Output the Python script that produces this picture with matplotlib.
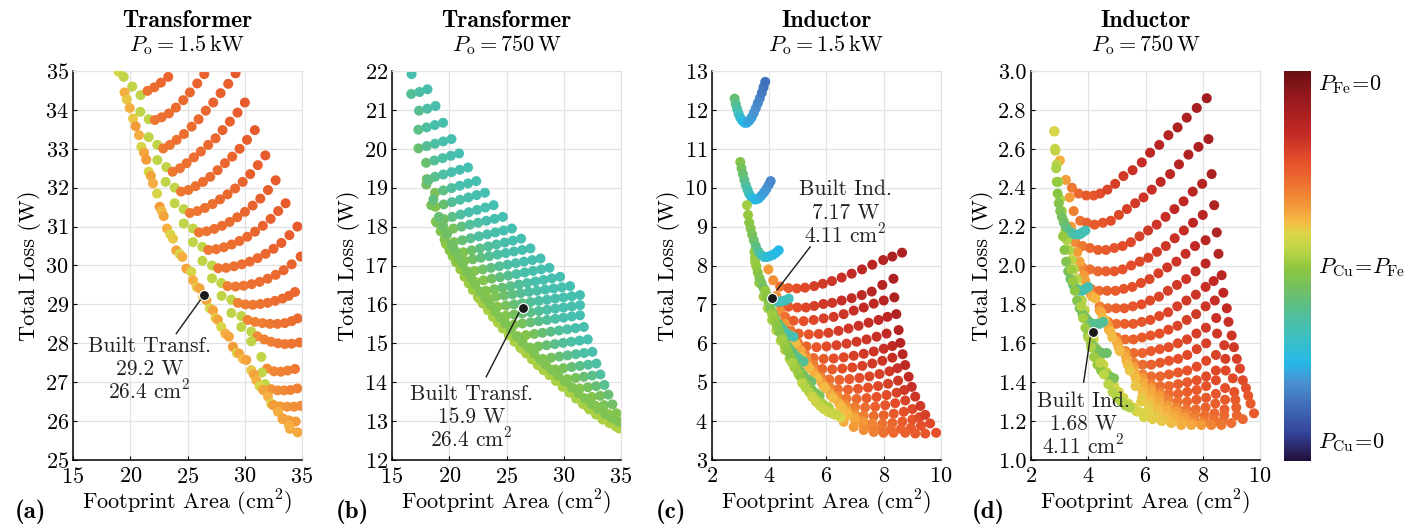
# loss vs footprint scatter for transformer and inductor designs
import numpy as np
import matplotlib as mpl
import matplotlib.pyplot as plt
from matplotlib.colors import LinearSegmentedColormap, Normalize
from matplotlib.ticker import FormatStrFormatter

plt.rcParams['font.family'] = 'cmr10'
plt.rcParams['mathtext.fontset'] = 'cm'
plt.rcParams['axes.formatter.use_mathtext'] = True
plt.rcParams['font.size'] = 15

# colour scale: -1 = P_Cu=0, 0 = P_Cu=P_Fe, +1 = P_Fe=0
CMAP_POS = [0.0, 0.07, 0.13, 0.2, 0.25, 0.31, 0.37, 0.43, 0.494, 0.532, 0.583, 0.617, 0.65, 0.70, 0.77, 0.84, 0.925, 1.0]
CMAP_HEX = ['#21103c', '#34439a', '#3e66b4', '#4a90d0', '#25b7e7', '#3bbfc6', '#4fbf9e', '#6cbf6b', '#8dc63f',
            '#b4d346', '#dcd548', '#f6b843', '#f39b39', '#ee7832', '#e5502a', '#c32a25', '#9a1a1e', '#6b0f14']

# ---------------- (a) transformer 1.5 kW ----------------
A_ROW_X = [
    [20.17, 20.9, 21.51, 22.1, 22.68, 23.32],
    [20.88, 21.61, 22.15, 22.74, 23.38, 23.99, 24.63, 25.21, 25.85, 26.46],
    [21.61, 22.36, 22.88, 23.46, 24.05, 24.69, 25.36, 25.97, 26.6, 27.25, 27.89, 28.56, 29.2],
    [22.37, 23.15, 23.7, 24.34, 24.92, 25.56, 26.17, 26.81, 27.45, 28.06, 28.7, 29.37, 30.01],
    [23.09, 23.88, 24.43, 25.07, 25.71, 26.35, 26.99, 27.63, 28.27, 28.91, 29.55, 30.2, 30.88],
    [23.88, 24.67, 25.2, 25.86, 26.52, 27.18, 27.84, 28.5, 29.16, 29.82, 30.48, 31.14, 31.8],
    [24.67, 25.48, 26.0, 26.67, 27.34, 28.01, 28.68, 29.35, 30.02, 30.69, 31.36, 32.03, 32.7],
    [25.48, 26.3, 26.82, 27.5, 28.18, 28.86, 29.54, 30.22, 30.9, 31.58, 32.26, 32.92, 33.57],
    [26.3, 27.14, 27.68, 28.37, 29.06, 29.75, 30.44, 31.13, 31.82, 32.51, 33.2, 33.9, 34.6],
    [27.14, 27.95, 28.5, 29.2, 29.9, 30.6, 31.3, 32.0, 32.7, 33.4, 34.1, 34.88],
    [27.98, 28.83, 29.4, 30.05, 30.7, 31.35, 32.0, 32.65, 33.3, 33.85, 34.39],
    [28.83, 29.7, 30.25, 30.9, 31.55, 32.2, 32.85, 33.5, 34.1, 34.63],
    [29.7, 30.57, 31.1, 31.7, 32.3, 32.9, 33.5, 34.1, 34.77],
    [30.57, 31.45, 31.95, 32.55, 33.15, 33.75, 34.39],
    [31.5, 31.77, 32.3, 32.87, 33.44, 34.0, 34.59],
    [32.5, 33.1, 33.7, 34.3, 34.88],
    [33.3, 33.85, 34.45],
    [33.95, 34.62],
]
A_ROW_Y = [
    [34.6, 34.38, 34.49, 34.58, 34.7, 34.85],
    [33.95, 33.76, 33.74, 33.81, 33.91, 34.06, 34.25, 34.45, 34.68, 34.92],
    [33.3, 33.1, 33.01, 33.1, 33.23, 33.38, 33.57, 33.76, 33.98, 34.19, 34.43, 34.67, 34.94],
    [32.71, 32.53, 32.41, 32.5, 32.63, 32.78, 32.93, 33.1, 33.27, 33.48, 33.7, 33.93, 34.19],
    [32.15, 32.0, 31.9, 31.94, 32.04, 32.15, 32.28, 32.45, 32.63, 32.8, 33.0, 33.23, 33.48],
    [31.6, 31.45, 31.35, 31.4, 31.48, 31.58, 31.7, 31.83, 31.98, 32.15, 32.35, 32.58, 32.83],
    [31.08, 30.95, 30.85, 30.88, 30.94, 31.02, 31.12, 31.24, 31.38, 31.54, 31.72, 31.94, 32.19],
    [30.6, 30.48, 30.4, 30.42, 30.47, 30.54, 30.63, 30.74, 30.87, 31.02, 31.2, 31.4, 31.6],
    [30.12, 30.0, 29.93, 29.94, 29.98, 30.03, 30.1, 30.19, 30.3, 30.43, 30.58, 30.78, 31.0],
    [29.67, 29.55, 29.47, 29.46, 29.48, 29.52, 29.58, 29.66, 29.76, 29.88, 30.03, 30.23],
    [29.22, 29.12, 29.04, 29.0, 28.99, 29.01, 29.04, 29.09, 29.15, 29.22, 29.32],
    [28.78, 28.7, 28.6, 28.55, 28.52, 28.5, 28.5, 28.52, 28.57, 28.64],
    [28.42, 28.3, 28.18, 28.1, 28.04, 28.0, 27.98, 27.99, 28.02],
    [28.05, 27.65, 27.35, 27.28, 27.27, 27.3, 27.34],
    [27.25, 26.95, 26.82, 26.79, 26.79, 26.8, 26.84],
    [26.42, 26.38, 26.37, 26.37, 26.39],
    [26.05, 26.02, 25.99],
    [25.8, 25.71],
]
A_ROW_C = [
    [.1, .1, .42, .44, .46, .47],
    [.1, .1, .4, .42, .43, .44, .45, .46, .47, .48],
    [.1, .1, .4, .41, .42, .43, .44, .45, .46, .47, .48, .49, .5],
    [.1, .1, .4, .41, .42, .43, .44, .45, .46, .47, .48, .49, .5],
    [.1, .1, .4, .41, .42, .43, .44, .45, .46, .47, .48, .49, .5],
    [.1, .1, .4, .41, .42, .43, .44, .45, .46, .47, .48, .49, .5],
    [.1, .1, .4, .41, .42, .43, .44, .45, .46, .47, .48, .49, .5],
    [.1, .1, .4, .41, .42, .43, .44, .45, .46, .47, .48, .49, .5],
    [.1, .1, .4, .41, .42, .43, .44, .45, .46, .47, .48, .49, .5],
    [.1, .1, .38, .4, .41, .42, .43, .44, .45, .46, .47, .48],
    [.1, .1, .37, .39, .4, .41, .42, .43, .44, .45, .46],
    [.1, .1, .36, .38, .39, .4, .41, .42, .43, .44],
    [.1, .1, .35, .37, .38, .39, .4, .41, .42],
    [.1, .1, .34, .36, .37, .38, .4],
    [.1, .1, .32, .34, .35, .36, .37],
    [.12, .3, .32, .33, .34],
    [.27, .29, .3],
    [.26, .27],
]
A_EDGE_X = [19.0, 19.43, 19.5, 19.7, 19.95, 20.24, 20.47, 20.76, 20.97, 21.2, 21.4, 21.61, 21.8, 21.99, 22.34,
            22.57, 22.75, 22.92, 23.21, 23.5, 23.73, 24.02, 24.3, 24.55, 24.9, 25.33, 25.48, 25.8, 26.06, 26.35,
            26.65, 26.95, 27.23, 27.45, 27.66, 27.95, 28.3, 28.62, 28.97, 29.3, 29.5, 29.85, 30.14, 30.57, 30.8,
            31.01, 31.3, 31.6, 32.03, 32.3, 32.47, 32.9, 33.34, 33.86]
A_EDGE_Y = [34.98, 34.85, 34.45, 34.27, 34.05, 33.78, 33.58, 33.35, 33.05, 32.9, 32.72, 32.41, 32.3, 32.11, 31.85,
            31.51, 31.4, 31.27, 30.95, 30.8, 30.69, 30.39, 30.3, 30.22, 29.92, 29.84, 29.62, 29.45, 29.41, 29.2,
            29.11, 28.9, 28.85, 28.65, 28.6, 28.42, 28.25, 28.17, 27.91, 27.75, 27.74, 27.6, 27.57, 27.31, 27.2,
            27.05, 26.9, 26.8, 26.63, 26.45, 26.41, 26.24, 26.07, 25.9]
A_EDGE_C = [.15, .1, .25, .2, .25, .2, .3, .25, .15, .28, .3, .15, .28, .25, .15, .3, .22, .28, .25, .15, .2, .28,
            .15, .25, .28, .15, .25, .2, .28, .2, .28, .15, .28, .2, .28, .15, .25, .28, .3, .15, .28, .22, .28, .2,
            .28, .25, .15, .28, .25, .15, .3, .25, .28, .25]

# ---------------- (b) transformer 750 W ----------------
B_ROW_X = [
    [16.71],
    [16.68, 17.4, 18.1],
    [17.36, 18.08, 18.8],
    [17.3, 18.02, 18.74, 19.46],
    [17.31, 18.03, 18.75, 19.47, 20.19],
    [17.98, 18.7, 19.42, 20.14, 20.86],
    [18.04, 18.76, 19.48, 20.2, 20.92, 21.64],
    [18.76, 19.48, 20.2, 20.92, 21.64, 22.36],
    [18.79, 19.51, 20.23, 20.95, 21.67, 22.39, 23.11],
    [18.83, 19.55, 20.27, 20.99, 21.71, 22.43, 23.15, 23.87],
    [19.64, 20.36, 21.08, 21.8, 22.52, 23.24, 23.96, 24.68],
    [19.71, 20.43, 21.15, 21.87, 22.59, 23.31, 24.03, 24.75, 25.47],
    [20.52, 21.24, 21.96, 22.68, 23.4, 24.12, 24.84, 25.56, 26.28],
    [20.61, 21.33, 22.05, 22.77, 23.49, 24.21, 24.93, 25.65, 26.37, 27.09],
    [21.49, 22.21, 22.93, 23.65, 24.37, 25.09, 25.81, 26.53, 27.25, 27.97],
    [22.27, 22.99, 23.71, 24.43, 25.15, 25.87, 26.59, 27.31, 28.03, 28.75],
    [22.48, 23.2, 23.92, 24.64, 25.36, 26.08, 26.8, 27.52, 28.24, 28.96, 29.68],
    [22.63, 23.35, 24.07, 24.79, 25.51, 26.23, 26.95, 27.67, 28.39, 29.11, 29.83, 30.55],
    [23.5, 24.22, 24.94, 25.66, 26.38, 27.1, 27.82, 28.54, 29.26, 29.98, 30.7, 31.42],
    [24.22, 24.94, 25.66, 26.38, 27.1, 27.82, 28.54, 29.26, 29.98, 30.7, 31.42],
    [24.94, 25.66, 26.38, 27.1, 27.82, 28.54, 29.26, 29.98, 30.7, 31.42],
    [25.99, 26.71, 27.43, 28.15, 28.87, 29.59, 30.31, 31.03, 31.75],
    [26.34, 27.06, 27.78, 28.5, 29.22, 29.94, 30.66, 31.38, 32.1],
    [27.46, 28.18, 28.9, 29.62, 30.34, 31.06, 31.78, 32.5],
    [28.53, 29.25, 29.97, 30.69, 31.41, 32.13, 32.85],
    [29.6, 30.32, 31.04, 31.76, 32.48, 33.2],
    [30.67, 31.39, 32.11, 32.83, 33.55],
    [31.74, 32.46, 33.18, 33.9],
    [32.09, 32.81, 33.53, 34.25],
    [33.16, 33.88, 34.6],
    [34.18, 34.9],
]
B_ROW_Y = [
    [21.92],
    [21.41, 21.46, 21.53],
    [20.98, 21.03, 21.1],
    [20.49, 20.55, 20.61, 20.67],
    [20.01, 20.07, 20.13, 20.19, 20.25],
    [19.64, 19.7, 19.76, 19.82, 19.88],
    [19.22, 19.28, 19.34, 19.4, 19.46, 19.52],
    [18.87, 18.93, 18.99, 19.05, 19.11, 19.17],
    [18.51, 18.57, 18.63, 18.69, 18.75, 18.81, 18.87],
    [18.13, 18.19, 18.25, 18.31, 18.37, 18.43, 18.49, 18.55],
    [17.9, 17.95, 18.0, 18.05, 18.1, 18.15, 18.2, 18.25],
    [17.55, 17.6, 17.65, 17.7, 17.75, 17.8, 17.85, 17.9, 17.95],
    [17.29, 17.34, 17.39, 17.44, 17.49, 17.54, 17.59, 17.64, 17.69],
    [17.08, 17.12, 17.16, 17.2, 17.24, 17.28, 17.32, 17.36, 17.4, 17.44],
    [16.82, 16.86, 16.9, 16.94, 16.98, 17.02, 17.06, 17.1, 17.14, 17.18],
    [16.58, 16.62, 16.66, 16.7, 16.74, 16.78, 16.82, 16.86, 16.9, 16.94],
    [16.31, 16.35, 16.39, 16.43, 16.47, 16.51, 16.55, 16.59, 16.63, 16.67, 16.71],
    [16.14, 16.17, 16.2, 16.23, 16.26, 16.29, 16.32, 16.35, 16.38, 16.41, 16.44, 16.47],
    [15.91, 15.94, 15.97, 16.0, 16.03, 16.06, 16.09, 16.12, 16.15, 16.18, 16.21, 16.24],
    [15.68, 15.71, 15.74, 15.77, 15.8, 15.83, 15.86, 15.89, 15.92, 15.95, 15.98],
    [15.45, 15.48, 15.51, 15.54, 15.57, 15.6, 15.63, 15.66, 15.69, 15.72],
    [15.18, 15.21, 15.24, 15.27, 15.3, 15.33, 15.36, 15.39, 15.42],
    [14.86, 14.89, 14.92, 14.95, 14.98, 15.01, 15.04, 15.07, 15.1],
    [14.57, 14.6, 14.63, 14.66, 14.69, 14.72, 14.75, 14.78],
    [14.3, 14.33, 14.36, 14.39, 14.42, 14.45, 14.48],
    [14.05, 14.08, 14.11, 14.14, 14.17, 14.2],
    [13.81, 13.84, 13.87, 13.9, 13.93],
    [13.59, 13.62, 13.65, 13.68],
    [13.37, 13.39, 13.41, 13.43],
    [13.16, 13.18, 13.2],
    [12.94, 12.95],
]
B_ROW_C = [
    [-.3],
    [-.24, -.28, -.3],
    [-.22, -.28, -.3],
    [-.2, -.26, -.3, -.31],
    [-.15, -.24, -.28, -.3, -.31],
    [-.15, -.24, -.28, -.3, -.32],
    [-.12, -.22, -.27, -.3, -.31, -.32],
    [-.08, -.2, -.26, -.3, -.31, -.32],
    [-.05, -.15, -.24, -.28, -.3, -.31, -.32],
    [-.02, -.12, -.2, -.26, -.29, -.3, -.31, -.32],
    [0, -.1, -.18, -.25, -.28, -.3, -.31, -.32],
    [0, -.08, -.16, -.22, -.27, -.29, -.3, -.31, -.32],
    [.02, -.06, -.14, -.2, -.25, -.28, -.3, -.31, -.32],
    [.02, -.05, -.12, -.18, -.23, -.27, -.29, -.3, -.31, -.32],
    [.02, -.05, -.12, -.18, -.23, -.27, -.29, -.3, -.31, -.32],
    [.02, -.05, -.12, -.18, -.23, -.27, -.29, -.3, -.31, -.32],
    [.03, -.04, -.1, -.16, -.21, -.25, -.28, -.3, -.31, -.31, -.32],
    [.04, -.02, -.08, -.14, -.19, -.23, -.26, -.28, -.3, -.31, -.31, -.32],
    [.03, -.04, -.1, -.16, -.2, -.24, -.27, -.29, -.3, -.31, -.31, -.32],
    [.03, -.04, -.1, -.16, -.21, -.25, -.28, -.3, -.31, -.31, -.32],
    [.03, -.04, -.1, -.16, -.21, -.25, -.28, -.3, -.31, -.32],
    [.03, -.04, -.1, -.16, -.21, -.25, -.28, -.3, -.31],
    [.03, -.04, -.1, -.16, -.21, -.25, -.28, -.3, -.31],
    [.03, -.04, -.1, -.16, -.21, -.25, -.28, -.3],
    [.03, -.04, -.1, -.16, -.21, -.25, -.28],
    [.03, -.04, -.1, -.16, -.21, -.26],
    [.03, -.04, -.1, -.16, -.22],
    [.03, -.04, -.1, -.16],
    [.03, -.03, -.08, -.12],
    [.04, -.02, -.06],
    [.04, -.02],
]
B_EDGE_X = [
    [18.0, 18.43, 18.92, 19.25, 19.59, 20.03, 20.3, 20.6, 20.97, 21.34, 21.7, 22.06, 22.5, 22.94, 23.38, 23.81,
     24.25, 24.68, 25.2, 25.7, 26.2, 26.72, 27.22, 27.73, 28.24, 28.75, 29.33, 29.91, 30.5, 31.08, 31.66, 32.24,
     32.82, 33.4, 33.98, 34.56, 34.85],
    [18.2, 18.62, 19.1, 19.45, 19.8, 20.22, 20.5, 20.8, 21.17, 21.54, 21.9, 22.26, 22.7, 23.14, 23.58, 24.01,
     24.45, 24.88, 25.4, 25.9, 26.4, 26.92, 27.42, 27.93, 28.44, 28.95, 29.53, 30.11, 30.7, 31.28, 31.86, 32.44,
     33.02, 33.6, 34.18, 34.76],
]
B_EDGE_Y = [
    [19.08, 18.55, 18.1, 17.88, 17.67, 17.39, 17.24, 17.09, 16.9, 16.71, 16.54, 16.37, 16.19, 16.02, 15.85, 15.68,
     15.53, 15.38, 15.21, 15.04, 14.89, 14.74, 14.59, 14.44, 14.31, 14.18, 14.03, 13.88, 13.73, 13.58, 13.44, 13.3,
     13.17, 13.04, 12.95, 12.86, 12.81],
    [19.2, 18.7, 18.25, 18.02, 17.8, 17.53, 17.38, 17.23, 17.04, 16.85, 16.68, 16.51, 16.33, 16.16, 15.99, 15.82,
     15.67, 15.52, 15.35, 15.18, 15.03, 14.88, 14.73, 14.58, 14.45, 14.32, 14.17, 14.02, 13.87, 13.72, 13.58, 13.44,
     13.31, 13.18, 13.08, 12.99],
]
B_EDGE_C = [
    [-.12, -.1, -.08, -.06, -.05, -.04, -.02, -.02, 0, 0, .02, .02, .03, .03, .04, .04, .04, .04, .04, .04, .04,
     .04, .04, .04, .04, .04, .04, .04, .04, .04, .04, .04, .04, .05, .05, .05, .05],
    [-.2, -.18, -.16, -.14, -.13, -.12, -.11, -.1, -.09, -.08, -.07, -.07, -.07, -.07, -.07, -.07, -.07, -.07,
     -.07, -.07, -.07, -.07, -.07, -.07, -.07, -.07, -.07, -.07, -.07, -.07, -.07, -.07, -.07, -.07, -.07, -.07],
]

# ---------------- (c) inductor 1.5 kW ----------------
C_ROW_X = [
    [3.97, 4.14, 4.38, 4.67, 4.96, 5.25, 5.57, 5.87, 6.19, 6.53, 6.88, 7.24, 7.6, 7.98, 8.3, 8.64],
    [4.25, 4.38, 4.67, 4.98, 5.28, 5.57, 5.89, 6.2, 6.53, 6.88, 7.23, 7.58, 7.95, 8.34],
    [4.39, 4.56, 4.85, 5.2, 5.55, 5.9, 6.25, 6.6, 6.95, 7.3, 7.65, 8.0, 8.37],
    [4.55, 4.75, 5.03, 5.38, 5.73, 6.07, 6.42, 6.77, 7.12, 7.47, 7.82, 8.13, 8.44],
    [4.78, 5.0, 5.3, 5.65, 6.0, 6.35, 6.7, 7.05, 7.4, 7.75, 8.1, 8.52],
    [4.8, 5.0, 5.25, 5.55, 5.9, 6.25, 6.6, 6.95, 7.3, 7.65, 8.0, 8.3, 8.58],
    [4.92, 5.1, 5.3, 5.55, 5.85, 6.2, 6.55, 6.9, 7.25, 7.6, 7.95, 8.3, 8.66],
    [5.12, 5.32, 5.55, 5.8, 6.1, 6.45, 6.8, 7.15, 7.5, 7.85, 8.2, 8.48, 8.75],
    [5.4, 5.6, 5.83, 6.1, 6.4, 6.75, 7.1, 7.45, 7.8, 8.15, 8.5, 8.87],
    [5.68, 5.88, 6.12, 6.4, 6.7, 7.05, 7.4, 7.75, 8.1, 8.45, 8.72, 8.98],
    [5.95, 6.15, 6.4, 6.68, 7.0, 7.35, 7.7, 8.05, 8.4, 8.75, 9.1],
    [6.22, 6.45, 6.7, 6.98, 7.3, 7.65, 8.0, 8.35, 8.7, 9.0, 9.28],
    [6.5, 6.72, 6.98, 7.28, 7.6, 7.95, 8.3, 8.65, 9.0, 9.25, 9.45],
    [6.55, 6.75, 7.0, 7.28, 7.58, 7.9, 8.25, 8.6, 8.95, 9.3, 9.62],
    [6.07, 6.31, 6.6, 6.95, 7.3, 7.65, 7.99, 8.34, 8.75, 9.1, 9.45, 9.83],
]
C_ROW_Y = [
    [7.9, 7.62, 7.46, 7.42, 7.41, 7.43, 7.47, 7.53, 7.6, 7.69, 7.79, 7.9, 8.02, 8.14, 8.23, 8.33],
    [7.22, 7.01, 6.94, 6.92, 6.92, 6.96, 7.01, 7.04, 7.1, 7.16, 7.24, 7.33, 7.5, 7.66],
    [6.82, 6.68, 6.58, 6.57, 6.6, 6.64, 6.68, 6.75, 6.84, 6.92, 7.02, 7.1, 7.18],
    [6.5, 6.33, 6.25, 6.23, 6.24, 6.27, 6.32, 6.38, 6.45, 6.53, 6.6, 6.68, 6.75],
    [6.2, 6.02, 5.92, 5.9, 5.92, 5.95, 5.99, 6.04, 6.1, 6.17, 6.25, 6.34],
    [6.1, 5.9, 5.72, 5.62, 5.6, 5.61, 5.64, 5.68, 5.73, 5.79, 5.86, 5.93, 6.01],
    [6.0, 5.82, 5.62, 5.45, 5.34, 5.33, 5.35, 5.38, 5.42, 5.48, 5.55, 5.63, 5.72],
    [5.65, 5.45, 5.28, 5.14, 5.07, 5.06, 5.08, 5.11, 5.15, 5.21, 5.28, 5.36, 5.44],
    [5.36, 5.17, 5.0, 4.88, 4.82, 4.81, 4.83, 4.86, 4.9, 4.96, 5.04, 5.14],
    [5.1, 4.92, 4.76, 4.64, 4.58, 4.57, 4.59, 4.62, 4.67, 4.73, 4.8, 4.88],
    [4.85, 4.67, 4.52, 4.41, 4.36, 4.35, 4.37, 4.41, 4.46, 4.53, 4.63],
    [4.6, 4.44, 4.3, 4.19, 4.14, 4.13, 4.15, 4.19, 4.24, 4.31, 4.39],
    [4.37, 4.22, 4.09, 3.99, 3.94, 3.93, 3.95, 3.99, 4.04, 4.1, 4.16],
    [4.3, 4.16, 4.03, 3.92, 3.84, 3.8, 3.79, 3.8, 3.83, 3.88, 3.94],
    [4.35, 4.16, 3.98, 3.85, 3.77, 3.72, 3.7, 3.7, 3.7, 3.68, 3.68, 3.7],
]
C_ROW_C = [
    [.3, .33, .42, .5, .54, .57, .6, .62, .64, .66, .68, .7, .72, .74, .76, .78],
    [.32, .42, .5, .54, .57, .6, .62, .64, .66, .68, .7, .72, .74, .77],
    [.33, .42, .5, .54, .57, .6, .62, .64, .66, .68, .7, .72, .76],
    [.3, .4, .48, .53, .56, .59, .61, .63, .65, .67, .69, .71, .75],
    [.3, .4, .47, .52, .55, .58, .6, .62, .64, .66, .69, .74],
    [.25, .3, .38, .45, .5, .54, .57, .6, .62, .64, .66, .69, .73],
    [.22, .27, .32, .38, .45, .5, .54, .57, .6, .62, .64, .67, .72],
    [.22, .26, .31, .37, .43, .48, .52, .55, .58, .6, .62, .65, .7],
    [.22, .26, .3, .36, .42, .47, .51, .54, .57, .6, .63, .68],
    [.22, .26, .3, .35, .4, .45, .5, .53, .56, .59, .62, .66],
    [.22, .26, .3, .34, .39, .44, .48, .52, .55, .58, .64],
    [.22, .25, .29, .33, .38, .43, .47, .51, .54, .57, .62],
    [.22, .25, .28, .32, .37, .42, .46, .5, .53, .56, .6],
    [.22, .24, .27, .31, .36, .4, .44, .48, .51, .54, .57],
    [.2, .23, .26, .3, .34, .38, .42, .45, .48, .5, .52, .54],
]
C_HOOK_X = [
    [2.79, 2.83, 2.88, 2.93, 2.99, 3.06, 3.14, 3.22, 3.3, 3.38, 3.46, 3.53, 3.6, 3.67, 3.74, 3.8, 3.86],
    [2.99, 3.03, 3.08, 3.13, 3.18, 3.24, 3.3, 3.38, 3.46, 3.55, 3.64, 3.73, 3.82, 3.9, 3.98, 4.05],
    [3.22, 3.26, 3.3, 3.35, 3.4, 3.46, 3.53, 3.62, 3.72, 3.82, 3.92, 4.02, 4.12, 4.22, 4.33],
    [3.55, 3.6, 3.66, 3.73, 3.8, 3.88, 3.97, 4.07, 4.18, 4.3, 4.42, 4.55, 4.68],
    [3.86, 3.92, 3.98, 4.05, 4.12, 4.2, 4.3, 4.4, 4.5, 4.6, 4.72, 4.85],
    [4.1, 4.18, 4.26, 4.35, 4.45, 4.55, 4.66, 4.78, 4.9, 5.03, 5.2],
    [4.45, 4.54, 4.64, 4.74, 4.85, 4.97, 5.09, 5.21, 5.34, 5.47],
    [4.8, 4.9, 5.01, 5.12, 5.24, 5.36, 5.49, 5.62, 5.76],
    [5.15, 5.27, 5.39, 5.52, 5.65, 5.79, 5.93, 6.07],
    [5.5, 5.63, 5.76, 5.9, 6.05, 6.2, 6.36],
]
C_HOOK_Y = [
    [12.29, 12.15, 12.02, 11.9, 11.8, 11.72, 11.67, 11.67, 11.72, 11.8, 11.92, 12.04, 12.17, 12.3, 12.44, 12.58, 12.72],
    [10.66, 10.5, 10.35, 10.2, 10.07, 9.95, 9.84, 9.75, 9.7, 9.7, 9.73, 9.8, 9.88, 9.97, 10.07, 10.17],
    [9.55, 9.3, 9.1, 8.95, 8.8, 8.65, 8.5, 8.36, 8.27, 8.22, 8.22, 8.24, 8.27, 8.32, 8.39],
    [7.97, 7.82, 7.68, 7.55, 7.42, 7.3, 7.2, 7.12, 7.08, 7.07, 7.08, 7.1, 7.15],
    [7.35, 7.2, 7.05, 6.9, 6.77, 6.64, 6.52, 6.42, 6.33, 6.26, 6.2, 6.17],
    [6.75, 6.6, 6.45, 6.3, 6.16, 6.03, 5.91, 5.8, 5.7, 5.61, 5.53],
    [6.1, 5.95, 5.8, 5.66, 5.52, 5.39, 5.27, 5.16, 5.07, 5.01],
    [5.5, 5.37, 5.24, 5.12, 5.0, 4.9, 4.8, 4.72, 4.65],
    [4.98, 4.86, 4.75, 4.64, 4.54, 4.46, 4.4, 4.35],
    [4.62, 4.5, 4.4, 4.31, 4.24, 4.19, 4.16],
]
C_HOOK_C = [
    [-.16, -.22, -.28, -.34, -.4, -.45, -.5, -.52, -.54, -.56, -.58, -.6, -.62, -.64, -.66, -.68, -.7],
    [-.05, -.1, -.15, -.2, -.25, -.3, -.35, -.42, -.48, -.5, -.52, -.54, -.56, -.58, -.6, -.62],
    [.03, .0, -.02, -.04, -.08, -.13, -.18, -.25, -.32, -.38, -.42, -.45, -.47, -.48, -.5],
    [.0, -.02, -.05, -.08, -.12, -.16, -.2, -.25, -.3, -.33, -.35, -.35, -.35],
    [.0, -.02, -.04, -.07, -.1, -.13, -.17, -.21, -.25, -.28, -.3, -.32],
    [.02, .0, -.02, -.04, -.07, -.1, -.13, -.16, -.19, -.22, -.24],
    [.03, .01, -.01, -.03, -.05, -.08, -.1, -.12, -.14, -.15],
    [.05, .03, .01, -.01, -.03, -.05, -.06, -.07, -.08],
    [.08, .07, .06, .05, .04, .04, .04, .04],
    [.12, .12, .12, .12, .12, .12, .12],
]
C_EDGE_X = [3.48, 3.5, 3.51, 3.65, 3.8, 3.95, 4.1, 4.25, 4.4, 4.55, 4.71, 4.88, 5.05, 5.23, 5.42, 5.62, 5.83, 6.05,
            6.27, 6.5]
C_EDGE_Y = [8.35, 8.2, 8.08, 7.55, 7.2, 6.9, 6.6, 6.33, 6.07, 5.83, 5.6, 5.38, 5.17, 4.98, 4.8, 4.63, 4.47, 4.33,
            4.2, 4.09]
C_EDGE_C = [.0, .0, .0, .02, .03, .04, .05, .06, .07, .08, .09, .1, .1, .11, .12, .12, .13, .14, .15, .16]

# ---------------- (d) inductor 750 W ----------------
D_ROW_X = [
    [3.01, 3.22, 3.43, 3.66, 3.93, 4.19, 4.42, 4.67, 4.94, 5.23, 5.55, 5.87, 6.16, 6.48, 6.8, 7.12, 7.44, 7.79, 8.14],
    [3.35, 3.49, 3.72, 3.95, 4.22, 4.51, 4.79, 5.07, 5.35, 5.64, 5.93, 6.22, 6.53, 6.86, 7.17, 7.5, 7.85, 8.2],
    [3.4, 3.55, 3.8, 4.06, 4.34, 4.62, 4.91, 5.2, 5.49, 5.79, 6.09, 6.39, 6.7, 7.01, 7.33, 7.65, 7.98, 8.31],
    [3.62, 3.8, 4.06, 4.34, 4.62, 4.91, 5.2, 5.5, 5.8, 6.1, 6.4, 6.71, 7.02, 7.34, 7.66, 8.0, 8.4],
    [3.7, 3.85, 4.1, 4.38, 4.66, 4.95, 5.24, 5.54, 5.84, 6.14, 6.45, 6.76, 7.08, 7.4, 7.73, 8.1, 8.49],
    [3.9, 4.1, 4.4, 4.68, 4.97, 5.26, 5.56, 5.86, 6.16, 6.47, 6.78, 7.1, 7.42, 7.75, 8.1, 8.55],
    [4.15, 4.4, 4.7, 4.98, 5.27, 5.57, 5.87, 6.17, 6.48, 6.79, 7.11, 7.43, 7.76, 8.1, 8.38, 8.66],
    [4.25, 4.45, 4.7, 5.0, 5.29, 5.58, 5.88, 6.18, 6.49, 6.8, 7.12, 7.44, 7.77, 8.1, 8.42, 8.72],
    [4.5, 4.72, 5.0, 5.3, 5.59, 5.89, 6.19, 6.5, 6.81, 7.13, 7.45, 7.78, 8.11, 8.47, 8.84],
    [4.58, 4.78, 5.02, 5.3, 5.6, 5.9, 6.2, 6.51, 6.82, 7.14, 7.46, 7.79, 8.12, 8.5, 8.9],
    [4.84, 5.06, 5.32, 5.6, 5.9, 6.2, 6.51, 6.82, 7.14, 7.46, 7.79, 8.12, 8.46, 8.75, 9.01],
    [5.1, 5.34, 5.6, 5.9, 6.2, 6.51, 6.82, 7.14, 7.46, 7.79, 8.12, 8.46, 8.79, 9.09],
    [5.38, 5.62, 5.9, 6.2, 6.5, 6.82, 7.14, 7.46, 7.79, 8.12, 8.46, 8.8, 9.19],
    [5.45, 5.66, 5.92, 6.2, 6.5, 6.8, 7.12, 7.45, 7.78, 8.12, 8.46, 8.78, 9.05, 9.3],
    [5.65, 5.9, 6.17, 6.47, 6.78, 7.1, 7.43, 7.76, 8.1, 8.44, 8.78, 9.1, 9.4],
    [5.88, 6.15, 6.45, 6.76, 7.08, 7.4, 7.73, 8.07, 8.41, 8.76, 9.14, 9.51],
    [5.85, 6.12, 6.42, 6.73, 7.05, 7.37, 7.7, 8.04, 8.39, 8.75, 9.17, 9.59],
    [6.08, 6.38, 6.68, 7.0, 7.32, 7.65, 8.0, 8.35, 8.71, 9.19, 9.67],
    [5.68, 5.95, 6.25, 6.57, 6.9, 7.25, 7.6, 7.95, 8.3, 8.65, 9.0, 9.4, 9.79],
]
D_ROW_Y = [
    [2.54, 2.44, 2.4, 2.37, 2.36, 2.36, 2.37, 2.39, 2.42, 2.46, 2.49, 2.53, 2.58, 2.62, 2.67, 2.71, 2.76, 2.81, 2.86],
    [2.35, 2.28, 2.23, 2.22, 2.21, 2.22, 2.23, 2.26, 2.29, 2.32, 2.35, 2.39, 2.43, 2.47, 2.52, 2.57, 2.61, 2.65],
    [2.2, 2.12, 2.1, 2.09, 2.08, 2.08, 2.09, 2.1, 2.12, 2.15, 2.18, 2.21, 2.25, 2.29, 2.33, 2.38, 2.42, 2.47],
    [2.07, 1.99, 1.98, 1.97, 1.97, 1.97, 1.98, 2.0, 2.02, 2.04, 2.07, 2.1, 2.14, 2.18, 2.22, 2.26, 2.31],
    [2.02, 1.95, 1.88, 1.87, 1.87, 1.87, 1.88, 1.89, 1.91, 1.93, 1.96, 1.99, 2.02, 2.06, 2.1, 2.13, 2.17],
    [1.92, 1.85, 1.79, 1.78, 1.78, 1.78, 1.79, 1.8, 1.82, 1.84, 1.87, 1.9, 1.93, 1.97, 2.01, 2.06],
    [1.84, 1.77, 1.71, 1.7, 1.7, 1.7, 1.71, 1.72, 1.74, 1.76, 1.79, 1.82, 1.85, 1.89, 1.92, 1.95],
    [1.83, 1.76, 1.69, 1.63, 1.62, 1.62, 1.63, 1.64, 1.65, 1.67, 1.69, 1.72, 1.75, 1.79, 1.82, 1.86],
    [1.73, 1.67, 1.61, 1.56, 1.55, 1.55, 1.56, 1.57, 1.58, 1.6, 1.62, 1.65, 1.68, 1.73, 1.78],
    [1.72, 1.66, 1.6, 1.55, 1.5, 1.49, 1.49, 1.5, 1.51, 1.52, 1.54, 1.57, 1.6, 1.65, 1.71],
    [1.63, 1.58, 1.53, 1.48, 1.44, 1.43, 1.43, 1.44, 1.45, 1.46, 1.48, 1.51, 1.54, 1.59, 1.64],
    [1.56, 1.51, 1.46, 1.42, 1.39, 1.38, 1.38, 1.39, 1.4, 1.41, 1.43, 1.46, 1.52, 1.58],
    [1.49, 1.44, 1.4, 1.37, 1.35, 1.34, 1.34, 1.35, 1.36, 1.38, 1.41, 1.46, 1.52],
    [1.46, 1.42, 1.38, 1.35, 1.33, 1.31, 1.3, 1.3, 1.31, 1.32, 1.34, 1.37, 1.42, 1.47],
    [1.38, 1.35, 1.32, 1.3, 1.28, 1.27, 1.26, 1.26, 1.27, 1.29, 1.31, 1.35, 1.41],
    [1.32, 1.3, 1.28, 1.26, 1.25, 1.24, 1.23, 1.23, 1.24, 1.26, 1.31, 1.37],
    [1.3, 1.28, 1.26, 1.24, 1.23, 1.22, 1.21, 1.2, 1.21, 1.23, 1.27, 1.33],
    [1.25, 1.23, 1.22, 1.21, 1.2, 1.19, 1.19, 1.19, 1.2, 1.23, 1.29],
    [1.25, 1.22, 1.21, 1.2, 1.19, 1.18, 1.18, 1.18, 1.18, 1.18, 1.19, 1.21, 1.24],
]
D_ROW_C = [
    [.25, .3, .4, .45, .5, .52, .55, .58, .6, .62, .65, .67, .7, .72, .74, .76, .78, .8, .82],
    [.3, .38, .42, .47, .5, .52, .55, .57, .6, .62, .64, .66, .68, .7, .72, .75, .77, .8],
    [.3, .35, .4, .45, .48, .5, .52, .55, .57, .6, .62, .64, .66, .68, .7, .72, .74, .78],
    [.3, .35, .42, .46, .49, .51, .53, .55, .57, .59, .61, .63, .65, .67, .7, .72, .76],
    [.28, .3, .38, .44, .48, .5, .52, .54, .56, .58, .6, .62, .64, .66, .69, .72, .75],
    [.28, .3, .38, .44, .48, .5, .52, .54, .56, .58, .6, .62, .64, .67, .7, .74],
    [.26, .3, .38, .44, .48, .5, .52, .54, .56, .58, .6, .62, .64, .66, .69, .72],
    [.24, .26, .3, .38, .44, .48, .5, .52, .54, .56, .58, .6, .62, .64, .67, .7],
    [.24, .26, .3, .38, .44, .47, .5, .52, .54, .56, .58, .6, .62, .65, .68],
    [.22, .24, .26, .3, .38, .44, .47, .5, .52, .54, .56, .58, .6, .63, .66],
    [.22, .25, .27, .3, .38, .43, .46, .49, .51, .53, .55, .57, .59, .61, .64],
    [.22, .25, .27, .3, .38, .43, .46, .49, .51, .53, .55, .57, .6, .62],
    [.22, .25, .27, .3, .38, .43, .46, .49, .51, .53, .55, .57, .6],
    [.2, .22, .25, .27, .3, .38, .42, .45, .48, .5, .52, .54, .56, .58],
    [.2, .22, .25, .27, .3, .37, .41, .44, .47, .49, .51, .53, .56],
    [.2, .22, .25, .27, .3, .37, .4, .43, .46, .48, .5, .54],
    [.18, .2, .22, .25, .27, .3, .36, .4, .43, .46, .49, .52],
    [.18, .2, .22, .25, .27, .3, .36, .4, .43, .47, .5],
    [.14, .16, .18, .2, .22, .25, .27, .3, .36, .4, .43, .46, .5],
]
D_HOOK_X = [
    [2.82, 2.85, 2.88, 2.9, 2.93, 2.97, 3.02, 3.08, 3.15, 3.22, 3.3, 3.4, 3.5, 3.6, 3.7, 3.8, 3.9],
    [3.12, 3.17, 3.23, 3.3, 3.38, 3.47, 3.57, 3.68, 3.79, 3.9, 4.0],
    [3.4, 3.46, 3.53, 3.61, 3.7, 3.8, 3.91, 4.03, 4.15, 4.28, 4.4, 4.52],
    [3.75, 3.82, 3.9, 3.99, 4.1, 4.22, 4.35, 4.5, 4.65],
    [4.0, 4.1, 4.2, 4.32, 4.45, 4.6, 4.75, 4.9],
    [4.42, 4.55, 4.7, 4.85, 5.0, 5.15, 5.3, 5.45],
]
D_HOOK_Y = [
    [2.69, 2.59, 2.5, 2.43, 2.37, 2.32, 2.28, 2.25, 2.22, 2.2, 2.18, 2.17, 2.16, 2.16, 2.16, 2.17, 2.18],
    [2.15, 2.08, 2.02, 1.97, 1.93, 1.9, 1.88, 1.87, 1.87, 1.88, 1.89],
    [1.98, 1.92, 1.87, 1.82, 1.78, 1.75, 1.73, 1.71, 1.7, 1.7, 1.7, 1.71],
    [1.79, 1.73, 1.68, 1.64, 1.6, 1.58, 1.56, 1.55, 1.55],
    [1.63, 1.58, 1.53, 1.49, 1.46, 1.44, 1.43, 1.42],
    [1.5, 1.44, 1.39, 1.35, 1.32, 1.3, 1.28, 1.27],
]
D_HOOK_C = [
    [.15, .1, .05, .0, -.03, -.05, -.07, -.1, -.13, -.17, -.2, -.24, -.27, -.3, -.32, -.33, -.33],
    [.0, -.03, -.06, -.1, -.14, -.18, -.22, -.26, -.29, -.31, -.32],
    [.02, .0, -.02, -.05, -.08, -.11, -.14, -.17, -.2, -.22, -.24, -.25],
    [.05, .03, .01, -.02, -.05, -.08, -.1, -.12, -.14],
    [.06, .04, .02, 0, -.02, -.04, -.06, -.08],
    [.1, .09, .08, .07, .06, .06, .06, .06],
]
D_EDGE_X = [2.81, 2.84, 2.9, 2.96, 3.02, 3.08, 3.14, 3.2, 3.26, 3.34, 3.43, 3.51, 3.6, 3.69, 3.78, 3.88, 3.98, 4.08,
            4.19, 4.3, 4.42, 4.53, 4.65, 4.78, 4.91, 5.07, 5.23, 5.4, 5.58, 5.74, 5.9]
D_EDGE_Y = [2.69, 2.6, 2.52, 2.43, 2.34, 2.28, 2.23, 2.18, 2.13, 2.08, 2.03, 1.98, 1.93, 1.88, 1.82, 1.77, 1.72, 1.67,
            1.62, 1.57, 1.53, 1.49, 1.45, 1.41, 1.38, 1.35, 1.32, 1.29, 1.27, 1.25, 1.24]
D_EDGE_C = [.18, .14, .1, .06, .06, .06, .06, .06, .06, .06, .08, .08, .08, .08, .08, .1, .12, .12, .12, .12, .12,
            .12, .12, .12, .14, .14, .14, .14, .16, .16, .16]

# built designs: (footprint, loss) and the three lines of the label
BUILT_PTS = [(26.4, 29.25), (26.4, 15.9), (4.11, 7.17), (4.15, 1.66)]
BUILT_TXT = [
    ['Built Transf.', '29.2 W', '26.4 cm$^2$'],
    ['Built Transf.', '15.9 W', '26.4 cm$^2$'],
    ['Built Ind.', '7.17 W', '4.11 cm$^2$'],
    ['Built Ind.', '1.68 W', '4.11 cm$^2$'],
]

TITLES = ['Transformer', 'Transformer', 'Inductor', 'Inductor']
POWERS = [r'$P_{\mathrm{o}} = 1.5\,\mathrm{kW}$', r'$P_{\mathrm{o}} = 750\,\mathrm{W}$',
          r'$P_{\mathrm{o}} = 1.5\,\mathrm{kW}$', r'$P_{\mathrm{o}} = 750\,\mathrm{W}$']
LETTERS = ['(a)', '(b)', '(c)', '(d)']

cmap = LinearSegmentedColormap.from_list('loss', list(zip(CMAP_POS, CMAP_HEX)))
norm = Normalize(-1, 1)
DOT = 52

fig = plt.figure(figsize=(14.14, 5.27), dpi=100)
W, H = 1414.0, 527.0
lefts = [73, 392, 712, 1031]
axes = [fig.add_axes([l / W, 67 / H, 229 / W, 389 / H]) for l in lefts]


def dots(ax, xs, ys, cs, z):
    # one scatter call per group of curves
    ax.scatter(np.concatenate(xs), np.concatenate(ys), c=np.concatenate(cs), cmap=cmap, norm=norm,
               s=DOT, linewidths=0, zorder=z)


dots(axes[0], A_ROW_X, A_ROW_Y, A_ROW_C, 2)
dots(axes[0], [A_EDGE_X], [A_EDGE_Y], [A_EDGE_C], 3)
dots(axes[1], B_ROW_X, B_ROW_Y, B_ROW_C, 2)
dots(axes[1], B_EDGE_X, B_EDGE_Y, B_EDGE_C, 3)
dots(axes[2], C_ROW_X, C_ROW_Y, C_ROW_C, 2)
dots(axes[2], [C_EDGE_X], [C_EDGE_Y], [C_EDGE_C], 3)
dots(axes[2], C_HOOK_X, C_HOOK_Y, C_HOOK_C, 4)
dots(axes[3], D_ROW_X, D_ROW_Y, D_ROW_C, 2)
dots(axes[3], [D_EDGE_X], [D_EDGE_Y], [D_EDGE_C], 3)
dots(axes[3], D_HOOK_X, D_HOOK_Y, D_HOOK_C, 4)

# axis ranges and ticks
limits = [((15, 35), (25, 35)), ((15, 35), (12, 22)), ((2, 10), (3, 13)), ((2, 10), (1.0, 3.0))]
xticks = [np.arange(15, 36, 5), np.arange(15, 36, 5), np.arange(2, 11, 2), np.arange(2, 11, 2)]
yticks = [np.arange(25, 36, 1), np.arange(12, 23, 1), np.arange(3, 14, 1), np.arange(1.0, 3.01, 0.2)]

for i, ax in enumerate(axes):
    ax.set_xlim(*limits[i][0])
    ax.set_ylim(*limits[i][1])
    ax.set_xticks(xticks[i])
    ax.set_yticks(yticks[i])
    ax.grid(True, color='#e2e2e2', linewidth=0.9)
    ax.set_axisbelow(True)
    for side in ['top', 'right']:
        ax.spines[side].set_color('#e2e2e2')
    for side in ['left', 'bottom']:
        ax.spines[side].set_linewidth(1.1)
    ax.tick_params(direction='in', length=3, width=0.8, labelsize=16)
    ax.tick_params(axis='x', pad=5)
    ax.tick_params(axis='y', pad=3)
    ax.set_xlabel('Footprint Area (cm$^2$)', fontsize=16, labelpad=1)
    ax.set_ylabel('Total Loss (W)', fontsize=16, labelpad=3)
    ax.text(0.5, 1.112, TITLES[i], transform=ax.transAxes, ha='center', va='baseline',
            fontsize=17, family='cmb10')
    ax.text(0.5, 1.05, POWERS[i], transform=ax.transAxes, ha='center', va='baseline', fontsize=16)

axes[3].yaxis.set_major_formatter(FormatStrFormatter('%.1f'))

# built design markers, leader lines and labels
lines = [((26.21, 24.02), (29.15, 28.25)), ((26.13, 23.23), (15.81, 14.14)),
         ((4.27, 5.43), (7.37, 8.48)), ((4.07, 3.84), (1.63, 1.40))]
text_x = [21.7, 21.92, 6.66, 3.84]
text_y = [(27.78, 27.18, 26.58), (13.54, 12.94, 12.34), (9.8, 9.2, 8.6), (1.272, 1.152, 1.032)]
for i, ax in enumerate(axes):
    ax.plot(lines[i][0], lines[i][1], color='#1a1a1a', linewidth=1.0, zorder=5)
    ax.scatter([BUILT_PTS[i][0]], [BUILT_PTS[i][1]], s=DOT, color='#1a1a1a', edgecolors='white',
               linewidths=0.8, zorder=6)
    for t, yy in zip(BUILT_TXT[i], text_y[i]):
        ax.text(text_x[i], yy, t, ha='center', va='baseline', fontsize=15.5, color='#222222', zorder=7)

# panel letters
for l, xp in zip(LETTERS, [15, 336, 656, 972]):
    fig.text(xp / W, 1 - 512 / H, l, ha='left', va='center', fontsize=18, family='cmb10')

# colour bar
cax = fig.add_axes([1284 / W, 66 / H, 27 / W, 390 / H])
cb = mpl.colorbar.ColorbarBase(cax, cmap=cmap, norm=norm)
cb.outline.set_visible(False)
cax.set_yticks([])
fig.text(1318 / W, 1 - 85 / H, r'$P_{\mathrm{Fe}}\!=\!0$', ha='left', va='center', fontsize=16)
fig.text(1318 / W, 1 - 268 / H, r'$P_{\mathrm{Cu}}\!=\!P_{\mathrm{Fe}}$', ha='left', va='center', fontsize=16)
fig.text(1318 / W, 1 - 443 / H, r'$P_{\mathrm{Cu}}\!=\!0$', ha='left', va='center', fontsize=16)

fig.savefig('out.png', dpi=100)
